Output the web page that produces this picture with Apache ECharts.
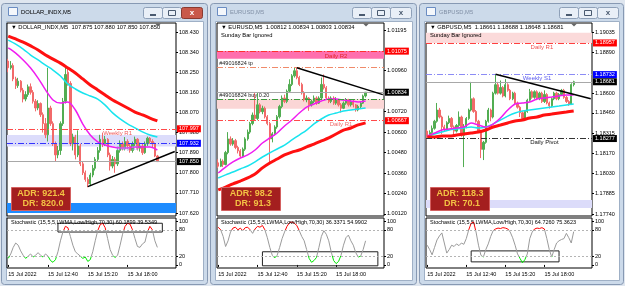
<!DOCTYPE html>
<html>
<head>
<meta charset="utf-8">
<script src="https://cdn.jsdelivr.net/npm/echarts@6/dist/echarts.min.js"></script>
<style>
html,body{margin:0;padding:0;background:#dfe6ef}
#c{width:625px;height:286px}
</style>
</head>
<body>
<div id="c"></div>
<script>
var FONT = '"Liberation Sans", "DejaVu Sans", sans-serif';

// bar slots (68 per chart, data only in the first 61)
var cats = [];
for (var i = 0; i < 68; i++) {
  var m = 600 + i * 10;
  cats.push('15 Jul ' + String(Math.floor(m / 60)).padStart(2, '0') + ':' + String(m % 60).padStart(2, '0'));
}
var tickIdx = [0, 16, 32, 48];
var tickText = ['15 Jul 2022', '15 Jul 12:40', '15 Jul 15:20', '15 Jul 18:00'];
var maStep = 3; // moving averages read every 3rd bar
var stochTicks = [0, 20, 80, 100];

// ---------- DOLLAR_INDX  [open, close, low, high]
var dxyOHLC = [
 [108.300,108.270,108.250,108.310],[108.270,108.280,108.262,108.300],[108.280,108.220,108.210,108.290],[108.220,108.190,108.175,108.230],
 [108.190,108.210,108.180,108.225],[108.210,108.170,108.160,108.215],[108.170,108.130,108.115,108.180],[108.130,108.150,108.120,108.165],
 [108.150,108.185,108.140,108.195],[108.185,108.160,108.150,108.200],[108.160,108.120,108.110,108.170],[108.120,108.090,108.075,108.130],
 [108.090,108.110,108.080,108.125],[108.110,108.060,108.050,108.115],[108.060,108.020,107.980,108.070],[108.020,107.970,107.955,108.045],
 [107.970,108.090,107.940,108.270],[108.090,108.020,108.010,108.100],[108.020,107.930,107.920,108.030],[107.930,107.880,107.850,107.940],
 [107.880,107.900,107.865,107.920],[107.900,108.020,107.880,108.030],[108.020,108.120,108.010,108.135],[108.120,108.240,108.110,108.270],
 [108.250,108.200,108.190,108.268],[108.200,107.930,107.920,108.210],[107.930,107.960,107.900,107.975],[107.960,107.880,107.860,107.970],
 [107.880,107.920,107.870,107.990],[107.920,107.840,107.830,107.930],[107.840,107.800,107.790,107.850],[107.800,107.770,107.760,107.810],
 [107.770,107.750,107.735,107.780],[107.750,107.790,107.740,107.800],[107.790,107.820,107.780,107.835],[107.820,107.860,107.810,107.870],
 [107.860,107.900,107.850,107.915],[107.900,107.950,107.890,107.970],[107.950,107.930,107.915,107.980],[107.930,107.950,107.920,107.965],
 [107.950,107.880,107.870,107.955],[107.880,107.830,107.810,107.890],[107.830,107.860,107.820,107.875],[107.860,107.840,107.800,107.870],
 [107.840,107.900,107.830,107.910],[107.900,107.930,107.890,107.945],[107.930,107.910,107.900,107.940],[107.910,107.940,107.900,107.960],
 [107.940,107.920,107.905,107.950],[107.920,107.900,107.890,107.930],[107.900,107.930,107.890,107.940],[107.930,107.950,107.920,107.962],
 [107.950,107.910,107.900,107.955],[107.910,107.920,107.895,107.935],[107.920,107.890,107.880,107.930],[107.890,107.930,107.885,107.940],
 [107.930,107.955,107.920,107.962],[107.955,107.940,107.930,107.960],[107.940,107.930,107.915,107.950],[107.930,107.875,107.870,107.935],
 [107.875,107.850,107.850,107.880]
];
var dxyRed  = [108.412,108.399,108.385,108.368,108.350,108.327,108.309,108.291,108.269,108.247,108.220,108.193,108.171,108.148,108.126,108.108,108.090,108.072,108.059,108.045,108.032];
var dxyCyan = [108.394,108.376,108.354,108.327,108.305,108.282,108.260,108.233,108.197,108.175,108.157,108.144,108.130,108.103,108.068,108.041,108.019,108.001,107.983,107.969,107.960];
var dxyMag  = [108.359,108.336,108.305,108.269,108.224,108.171,108.126,108.112,108.117,108.081,108.018,107.969,107.938,107.924,107.915,107.911,107.911,107.915,107.915,107.915,107.902];
var dxyStoch = [15,25,40,50,45,32,22,15,20,25,18,22,28,22,18,25,20,10,6,12,30,55,75,88,85,65,45,30,25,20,15,18,8,12,30,55,78,92,95,85,60,35,22,17,22,45,70,88,95,93,80,60,42,40,48,52,75,88,80,55,40];
var dxyTicks = [108.430,108.340,108.250,108.160,108.070,107.980,107.890,107.800,107.710,107.620];
var dxyRange = [107.6065, 108.4705];
var dxyLevels = [107.997, 107.932, 107.850];
var dxyBands = [[107.918, 107.969], [107.620, 107.665]];
var dxyTrend = [[32, 107.738], [67, 107.895]];
var dxyStochBox = [[20, 95], [62, 75]];
var dxyAdr = ['ADR: 921.4', 'DR: 820.0'];

// ---------- EURUSD
var eurOHLC = [
 [1.00420,1.00400,1.00390,1.00440],[1.00400,1.00430,1.00395,1.00445],[1.00430,1.00410,1.00395,1.00440],[1.00410,1.00480,1.00405,1.00490],
 [1.00480,1.00560,1.00470,1.00600],[1.00560,1.00530,1.00520,1.00575],[1.00530,1.00550,1.00520,1.00565],[1.00550,1.00510,1.00500,1.00560],
 [1.00510,1.00490,1.00475,1.00520],[1.00490,1.00460,1.00450,1.00500],[1.00460,1.00500,1.00455,1.00510],[1.00500,1.00560,1.00490,1.00570],
 [1.00560,1.00600,1.00550,1.00615],[1.00600,1.00650,1.00590,1.00660],[1.00650,1.00700,1.00640,1.00715],[1.00700,1.00680,1.00670,1.00830],
 [1.00680,1.00760,1.00670,1.00835],[1.00760,1.00720,1.00710,1.00770],[1.00720,1.00740,1.00705,1.00755],[1.00740,1.00690,1.00680,1.00750],
 [1.00690,1.00650,1.00640,1.00700],[1.00650,1.00560,1.00420,1.00660],[1.00560,1.00590,1.00540,1.00600],[1.00590,1.00630,1.00580,1.00640],
 [1.00630,1.00690,1.00620,1.00700],[1.00690,1.00750,1.00680,1.00760],[1.00750,1.00800,1.00740,1.00815],[1.00800,1.00780,1.00770,1.00820],
 [1.00780,1.00840,1.00770,1.00850],[1.00840,1.00880,1.00830,1.00910],[1.00880,1.00930,1.00870,1.00940],[1.00930,1.00960,1.00920,1.00976],
 [1.00960,1.00920,1.00910,1.00978],[1.00920,1.00880,1.00870,1.00930],[1.00880,1.00830,1.00820,1.00890],[1.00830,1.00790,1.00780,1.00840],
 [1.00790,1.00800,1.00775,1.00815],[1.00800,1.00760,1.00725,1.00805],[1.00760,1.00780,1.00750,1.00790],[1.00780,1.00800,1.00770,1.00815],
 [1.00800,1.00770,1.00760,1.00810],[1.00770,1.00800,1.00765,1.00810],[1.00800,1.00880,1.00790,1.00920],[1.00880,1.00860,1.00850,1.00938],
 [1.00860,1.00800,1.00790,1.00870],[1.00800,1.00780,1.00770,1.00810],[1.00780,1.00800,1.00770,1.00810],[1.00800,1.00770,1.00760,1.00810],
 [1.00770,1.00790,1.00760,1.00805],[1.00790,1.00760,1.00750,1.00795],[1.00760,1.00740,1.00715,1.00770],[1.00740,1.00770,1.00735,1.00780],
 [1.00770,1.00790,1.00760,1.00800],[1.00790,1.00760,1.00750,1.00795],[1.00760,1.00780,1.00750,1.00790],[1.00780,1.00760,1.00745,1.00790],
 [1.00760,1.00730,1.00720,1.00765],[1.00730,1.00750,1.00722,1.00760],[1.00750,1.00770,1.00740,1.00780],[1.00770,1.00812,1.00765,1.00820],
 [1.00812,1.00834,1.00803,1.00834]
];
var eurRed  = [1.00261,1.00278,1.00296,1.00313,1.00331,1.00354,1.00390,1.00419,1.00442,1.00466,1.00483,1.00495,1.00513,1.00530,1.00548,1.00566,1.00589,1.00612,1.00624,1.00642,1.00654];
var eurCyan = [1.00331,1.00349,1.00366,1.00384,1.00401,1.00425,1.00454,1.00478,1.00501,1.00524,1.00554,1.00583,1.00612,1.00648,1.00677,1.00700,1.00712,1.00724,1.00730,1.00736,1.00742];
var eurMag  = [1.00360,1.00395,1.00425,1.00448,1.00466,1.00495,1.00536,1.00566,1.00595,1.00636,1.00671,1.00712,1.00747,1.00765,1.00783,1.00794,1.00794,1.00788,1.00783,1.00777,1.00783];
var eurStoch = [86,80,65,42,55,75,84,86,80,84,78,85,86,80,72,82,88,86,90,80,62,40,22,16,22,40,60,75,88,96,98,95,90,78,65,55,35,15,6,10,17,40,65,78,70,55,30,10,3,8,22,45,62,68,55,45,28,18,20,35,55];
var eurTicks = [1.01195,1.00960,1.00720,1.00600,1.00480,1.00360,1.00240,1.00120];
var eurRange = [1.00108, 1.01240];
var eurLevels = [1.01075, 1.00982, 1.00794, 1.00834, 1.00667];
var eurBands = [[1.01030, 1.01076], [1.00737, 1.00794]];
var eurTrend = [[32, 1.00978], [67, 1.00820]];
var eurStochBox = [[18, 30], [65, -2]];
var eurAdr = ['ADR: 98.2', 'DR: 91.3'];

// ---------- GBPUSD
var gbpOHLC = [
 [1.18330,1.18300,1.18270,1.18340],[1.18300,1.18320,1.18290,1.18335],[1.18320,1.18350,1.18310,1.18370],[1.18350,1.18400,1.18340,1.18410],
 [1.18400,1.18480,1.18390,1.18530],[1.18480,1.18430,1.18420,1.18495],[1.18430,1.18360,1.18310,1.18440],[1.18360,1.18340,1.18325,1.18375],
 [1.18340,1.18390,1.18330,1.18400],[1.18390,1.18420,1.18380,1.18440],[1.18420,1.18360,1.18350,1.18430],[1.18360,1.18330,1.18300,1.18370],
 [1.18330,1.18370,1.18320,1.18380],[1.18370,1.18430,1.18360,1.18470],[1.18430,1.18300,1.18290,1.18440],[1.18300,1.18360,1.18074,1.18380],
 [1.18360,1.18420,1.18350,1.18430],[1.18420,1.18480,1.18410,1.18490],[1.18480,1.18560,1.18470,1.18680],[1.18560,1.18470,1.18460,1.18570],
 [1.18470,1.18400,1.18390,1.18480],[1.18400,1.18330,1.18320,1.18410],[1.18330,1.18200,1.18138,1.18340],[1.18200,1.18250,1.18124,1.18260],
 [1.18250,1.18400,1.18240,1.18410],[1.18400,1.18480,1.18390,1.18495],[1.18480,1.18430,1.18400,1.18490],[1.18430,1.18600,1.18420,1.18610],
 [1.18600,1.18660,1.18590,1.18732],[1.18660,1.18600,1.18590,1.18680],[1.18600,1.18640,1.18590,1.18690],[1.18640,1.18580,1.18570,1.18650],
 [1.18580,1.18660,1.18570,1.18700],[1.18660,1.18620,1.18610,1.18670],[1.18620,1.18560,1.18550,1.18630],[1.18560,1.18600,1.18550,1.18610],
 [1.18600,1.18530,1.18520,1.18610],[1.18530,1.18500,1.18490,1.18540],[1.18500,1.18460,1.18430,1.18510],[1.18460,1.18420,1.18409,1.18470],
 [1.18420,1.18470,1.18415,1.18480],[1.18470,1.18550,1.18460,1.18560],[1.18550,1.18610,1.18540,1.18630],[1.18610,1.18570,1.18560,1.18620],
 [1.18570,1.18610,1.18560,1.18620],[1.18610,1.18560,1.18550,1.18620],[1.18560,1.18600,1.18550,1.18610],[1.18600,1.18540,1.18530,1.18610],
 [1.18540,1.18590,1.18530,1.18620],[1.18590,1.18530,1.18520,1.18600],[1.18530,1.18510,1.18490,1.18540],[1.18510,1.18560,1.18500,1.18570],
 [1.18560,1.18600,1.18550,1.18610],[1.18600,1.18560,1.18550,1.18610],[1.18560,1.18590,1.18550,1.18600],[1.18590,1.18620,1.18580,1.18630],
 [1.18620,1.18570,1.18560,1.18630],[1.18570,1.18540,1.18530,1.18580],[1.18540,1.18520,1.18510,1.18550],[1.18520,1.18661,1.18515,1.18670],
 [1.18661,1.18681,1.18648,1.18688]
];
var gbpRed  = [1.18288,1.18288,1.18295,1.18295,1.18302,1.18309,1.18316,1.18323,1.18338,1.18359,1.18373,1.18388,1.18402,1.18409,1.18423,1.18430,1.18444,1.18451,1.18459,1.18466,1.18473];
var gbpCyan = [1.18288,1.18309,1.18323,1.18338,1.18345,1.18352,1.18359,1.18352,1.18359,1.18380,1.18409,1.18437,1.18459,1.18473,1.18480,1.18487,1.18494,1.18501,1.18508,1.18516,1.18523];
var gbpMag  = [1.18295,1.18316,1.18338,1.18345,1.18352,1.18359,1.18388,1.18373,1.18359,1.18380,1.18423,1.18480,1.18523,1.18530,1.18537,1.18558,1.18565,1.18572,1.18580,1.18587,1.18587];
var gbpStoch = [45,35,23,40,57,66,73,50,27,35,45,42,48,44,50,47,60,80,95,98,75,45,22,18,35,48,65,78,82,84,83,85,84,82,75,62,45,25,15,5,12,25,60,75,82,84,83,85,82,60,35,18,35,50,55,58,60,72,62,50,76];
var gbpTicks = [1.19035,1.18890,1.18600,1.18460,1.18315,1.18170,1.18030,1.17885,1.17740];
var gbpRange = [1.17726, 1.19099];
var gbpLevels = [1.18957, 1.18732, 1.18681, 1.18277];
var gbpBands = [[1.18957, 1.19030], [1.17783, 1.17840]];
var gbpTrend = [[28, 1.18735], [67, 1.18560]];
var gbpStochBox = [[18, 32], [54, 7]];
var gbpAdr = ['ADR: 118.3', 'DR: 70.1'];

var DASHDOT = [6, 2, 1, 2];
var panels = [
  {left: 7, width: 169, winX: 1, winW: 207, title: 'DOLLAR_INDX,M5', active: true, digits: 3,
   head: '\u25BC DOLLAR_INDX,M5  107.875 107.880 107.850 107.850', sunday: false,
   ohlc: dxyOHLC, red: dxyRed, cyan: dxyCyan, mag: dxyMag, stoch: dxyStoch, ticks: dxyTicks, range: dxyRange,
   lines: [
     {v: dxyLevels[0], color: '#ff4a4a', dash: true, box: '#ff0000'},
     {v: dxyLevels[1], color: '#3434ff', dash: true, box: '#0000ff'},
     {v: dxyLevels[2], color: '#a8a8a8', dash: false, box: '#000000'}
   ],
   bands: [{r: dxyBands[0], color: '#dcdcfb'}, {r: dxyBands[1], color: '#1e8cff'}],
   trend: dxyTrend,
   texts: [
     {at: [44, 107.975], t: 'Weekly R1', color: '#f05a5a'},
     {at: [48, 107.911], t: 'Daily S1', color: '#9c9cee'}
   ],
   stochHead: 'Stochastic (15,5,5,LWMA,Low/High,70,30) 60.1899 39.5349',
   stochBox: dxyStochBox, adr: dxyAdr},
  {left: 217, width: 167, winX: 210, winW: 207, title: 'EURUSD,M5', active: false, digits: 5,
   head: '\u25BC EURUSD,M5  1.00812 1.00834 1.00803 1.00834', sunday: true,
   ohlc: eurOHLC, red: eurRed, cyan: eurCyan, mag: eurMag, stoch: eurStoch, ticks: eurTicks, range: eurRange,
   lines: [
     {v: eurLevels[0], color: '#ff3030', dash: true, box: '#ff0000'},
     {v: eurLevels[1], color: '#f08a6a', dash: true, box: null},
     {v: eurLevels[2], color: '#3c9a3c', dash: true, box: null},
     {v: eurLevels[3], color: '#a8a8a8', dash: false, box: '#000000'},
     {v: eurLevels[4], color: '#ff4a4a', dash: true, box: '#ff0000'}
   ],
   bands: [{r: eurBands[0], color: '#ff6fae'}, {r: eurBands[1], color: '#fbd6d6'}],
   trend: eurTrend,
   texts: [
     {at: [48, 1.01046], t: 'Daily R2', color: '#e02828'},
     {at: [0, 1.01005], t: '#49016824 tp', color: '#222', left: true},
     {at: [0, 1.00812], t: '#49016824 buy 0.20', color: '#222', left: true},
     {at: [50, 1.00645], t: 'Daily R1', color: '#f06a6a'}
   ],
   stochHead: 'Stochastic (15,5,5,LWMA,Low/High,70,30) 36.3371 54.9902',
   stochBox: eurStochBox, adr: eurAdr},
  {left: 426, width: 166, winX: 419, winW: 205, title: 'GBPUSD,M5', active: false, digits: 5,
   head: '\u25BC GBPUSD,M5  1.18661 1.18688 1.18648 1.18681', sunday: true,
   ohlc: gbpOHLC, red: gbpRed, cyan: gbpCyan, mag: gbpMag, stoch: gbpStoch, ticks: gbpTicks, range: gbpRange,
   lines: [
     {v: gbpLevels[0], color: '#ff4040', dash: true, box: '#ff0000'},
     {v: gbpLevels[1], color: '#8c8cf5', dash: true, box: '#0000ff'},
     {v: gbpLevels[2], color: '#a8a8a8', dash: false, box: '#000000'},
     {v: gbpLevels[3], color: '#333333', dash: true, box: '#000000'}
   ],
   bands: [{r: gbpBands[0], color: '#fbdada'}, {r: gbpBands[1], color: '#dcdcfa'}],
   trend: gbpTrend,
   texts: [
     {at: [47, 1.18928], t: 'Daily R1', color: '#f05050'},
     {at: [45, 1.18708], t: 'Weekly S1', color: '#5a5af0'},
     {at: [48, 1.18250], t: 'Daily Pivot', color: '#111'}
   ],
   stochHead: 'Stochastic (15,5,5,LWMA,Low/High,70,30) 64.7260 75.3623',
   stochBox: gbpStochBox, adr: gbpAdr}
];

var UP = '#52ad52', DOWN = '#f26a6a';
var isTick = function (idx) { return tickIdx.indexOf(idx) >= 0; };
var tickLabel = function (val, idx) { var j = tickIdx.indexOf(idx); return j >= 0 ? tickText[j] : ''; };

var grids = [], xAxes = [], yAxes = [], series = [], stochIdx = [], graphics = [];

function frame(x, w, title, active) {
  var r = x + w;
  var btn = {fill: '#e9eff7', stroke: '#8ea0b8', lineWidth: 1};
  graphics.push(
    {type: 'rect', z: -10, shape: {x: x + 0.5, y: 3.5, width: w - 1, height: 281, r: 3}, style: {fill: '#ccdaea', stroke: '#8799b3', lineWidth: 1}},
    {type: 'rect', z: -9, shape: {x: x + 5.5, y: 21.5, width: w - 10, height: 259}, style: {fill: '#fff', stroke: '#9fb0c6', lineWidth: 1}},
    {type: 'rect', z: -9, shape: {x: x + 7.5, y: 7.5, width: 9, height: 8}, style: {fill: '#f4f7fb', stroke: '#6a8cc2', lineWidth: 1}},
    {type: 'text', z: -9, x: x + 20, y: 12.5, style: {text: title, fill: active ? '#000' : '#8190a6', font: '5.8px ' + FONT, textVerticalAlign: 'middle'}},
    {type: 'rect', z: -9, shape: {x: r - 64.5, y: 7.5, width: 19, height: 11, r: 2}, style: btn},
    {type: 'rect', z: -9, shape: {x: r - 45.5, y: 7.5, width: 19, height: 11, r: 2}, style: btn},
    {type: 'rect', z: -9, shape: {x: r - 26.5, y: 7.5, width: 21, height: 11, r: 2}, style: active ? {fill: '#c9594a', stroke: '#8a3a30', lineWidth: 1} : btn},
    {type: 'rect', z: -8, shape: {x: r - 58, y: 14, width: 6, height: 2}, style: {fill: '#4a5a70'}},
    {type: 'rect', z: -8, shape: {x: r - 39.5, y: 10.5, width: 7, height: 5}, style: {fill: 'none', stroke: '#4a5a70', lineWidth: 1}},
    {type: 'text', z: -8, x: r - 16, y: 13, style: {text: 'x', fill: active ? '#fff' : '#4a5a70', font: 'bold 8px ' + FONT, textAlign: 'center', textVerticalAlign: 'middle'}}
  );
}

panels.forEach(function (p, k) {
  var gm = 2 * k, gs = 2 * k + 1;
  frame(p.winX, p.winW, p.title, p.active);

  grids.push({left: p.left, top: 23, width: p.width, height: 193, show: true, borderColor: '#000', borderWidth: 1, backgroundColor: '#fff'});
  grids.push({left: p.left, top: 218, width: p.width, height: 50, show: true, borderColor: '#000', borderWidth: 1, backgroundColor: '#fff'});

  xAxes.push({type: 'category', gridIndex: gm, data: cats, show: false});
  xAxes.push({type: 'category', gridIndex: gs, data: cats,
    axisLine: {show: false}, splitLine: {show: false},
    axisTick: {show: true, interval: isTick, alignWithLabel: true, length: 2, lineStyle: {color: '#000'}},
    axisLabel: {interval: isTick, formatter: tickLabel, align: 'left', fontSize: 5.5, margin: 3, color: '#000', fontFamily: FONT}});

  yAxes.push({type: 'value', gridIndex: gm, position: 'right', min: p.range[0], max: p.range[1],
    splitLine: {show: false}, axisLine: {show: false},
    axisTick: {show: true, customValues: p.ticks, length: 2, lineStyle: {color: '#000'}},
    axisLabel: {customValues: p.ticks, formatter: function (v) { return v.toFixed(p.digits); }, fontSize: 5.5, margin: 3, color: '#000', fontFamily: FONT}});
  yAxes.push({type: 'value', gridIndex: gs, position: 'right', min: -7, max: 107,
    splitLine: {show: false}, axisLine: {show: false},
    axisTick: {show: true, customValues: stochTicks, length: 2, lineStyle: {color: '#000'}},
    axisLabel: {customValues: stochTicks, fontSize: 5.5, margin: 3, color: '#000', fontFamily: FONT}});

  var lineData = p.lines.map(function (l) {
    return {
      yAxis: l.v,
      lineStyle: {color: l.color, width: 1, type: l.dash ? DASHDOT : 'solid'},
      label: l.box ? {show: true, position: 'end', distance: 1, formatter: l.v.toFixed(p.digits), color: '#fff',
        backgroundColor: l.box, padding: [1, 2, 0, 2], fontSize: 5.5, fontFamily: FONT} : {show: false}
    };
  });
  lineData.push([
    {coord: p.trend[0], lineStyle: {color: '#000', width: 1.5, type: 'solid'}, label: {show: false}},
    {coord: p.trend[1]}
  ]);

  series.push({
    type: 'candlestick', xAxisIndex: gm, yAxisIndex: gm, data: p.ohlc, barWidth: 1.8,
    itemStyle: {color: UP, color0: DOWN, borderColor: UP, borderColor0: DOWN, borderWidth: 1},
    markArea: {silent: true, data: p.bands.map(function (b) {
      return [{yAxis: b.r[0], itemStyle: {color: b.color}}, {yAxis: b.r[1]}];
    })},
    markLine: {silent: true, precision: 5, symbol: ['none', 'none'], data: lineData},
    markPoint: {silent: true, symbol: 'circle', symbolSize: 0, data: p.texts.map(function (t) {
      return {coord: t.at, label: {show: true, position: t.left ? 'right' : 'inside', distance: 1,
        formatter: t.t, color: t.color, fontSize: t.left ? 5.5 : 6, fontFamily: FONT}};
    })}
  });

  [[p.cyan, '#18e4ee', 1.5], [p.mag, '#f01cf0', 1.5], [p.red, '#ff1010', 3]].forEach(function (ma) {
    series.push({type: 'line', xAxisIndex: gm, yAxisIndex: gm, silent: true, showSymbol: false, smooth: 0.3, z: 3,
      data: ma[0].map(function (v, j) { return [j * maStep, v]; }),
      lineStyle: {color: ma[1], width: ma[2]}});
  });

  stochIdx.push(series.length);
  series.push({type: 'line', xAxisIndex: gs, yAxisIndex: gs, silent: true, showSymbol: false, data: p.stoch,
    lineStyle: {width: 1},
    markLine: {silent: true, symbol: ['none', 'none'], label: {show: false},
      lineStyle: {color: '#b4b4b4', type: [2, 2], width: 1},
      data: [{yAxis: 20}, {yAxis: 80}]},
    markArea: {silent: true, itemStyle: {color: 'rgba(0,0,0,0)', borderColor: '#222', borderWidth: 1},
      data: [[{coord: p.stochBox[0]}, {coord: p.stochBox[1]}]]}
  });

  // chart header texts
  graphics.push({type: 'text', z: 100, x: p.left + 4, y: 27.5, style: {text: p.head, fill: '#000', font: '5.8px ' + FONT, textVerticalAlign: 'middle'}});
  if (p.sunday) {
    graphics.push({type: 'text', z: 100, x: p.left + 4, y: 35.5, style: {text: 'Sunday Bar Ignored', fill: '#000', font: '5.8px ' + FONT, textVerticalAlign: 'middle'}});
  }
  graphics.push({type: 'polygon', z: 100, shape: {points: [[p.left + p.width - 21, 23.5], [p.left + p.width - 15, 23.5], [p.left + p.width - 18, 26.5]]}, style: {fill: '#666'}});
  graphics.push({type: 'text', z: 100, x: p.left + 4, y: 222.5, style: {text: p.stochHead, fill: '#000', font: '5.5px ' + FONT, textVerticalAlign: 'middle'}});

  // ADR box
  var bx = p.left + 4;
  graphics.push({type: 'rect', z: 100, shape: {x: bx + 0.5, y: 187.5, width: 59, height: 23}, style: {fill: '#a41f1f', stroke: '#d46060', lineWidth: 1}});
  graphics.push({type: 'text', z: 101, x: bx + 30, y: 194, style: {text: p.adr[0], fill: '#f3c244', font: 'bold 9px ' + FONT, textAlign: 'center', textVerticalAlign: 'middle'}});
  graphics.push({type: 'text', z: 101, x: bx + 32, y: 204, style: {text: p.adr[1], fill: '#f3c244', font: 'bold 9px ' + FONT, textAlign: 'center', textVerticalAlign: 'middle'}});
});

var chart = echarts.init(document.getElementById('c'));
chart.setOption({
  backgroundColor: '#dfe6ef',
  animation: false,
  grid: grids,
  xAxis: xAxes,
  yAxis: yAxes,
  visualMap: [{type: 'piecewise', show: false, dimension: 1, seriesIndex: stochIdx,
    pieces: [{gt: 80, color: '#ff0000'}, {lt: 20, color: '#00e600'}, {gte: 20, lte: 80, color: '#9a9a9a'}]}],
  graphic: {elements: graphics},
  series: series
});
</script>
</body>
</html>
